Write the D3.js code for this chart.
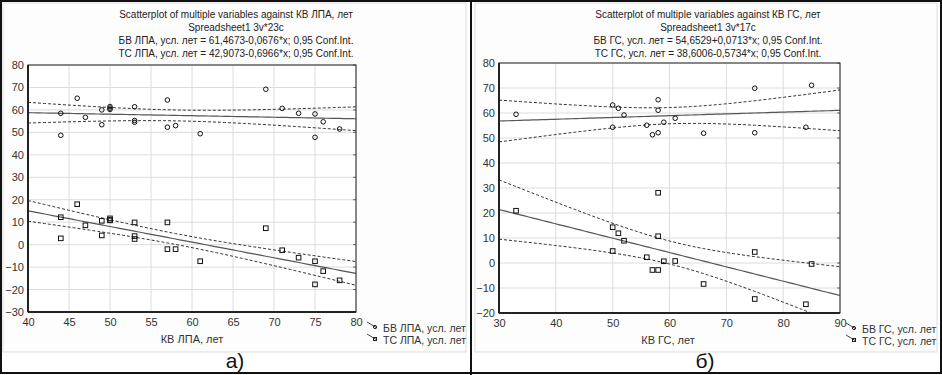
<!DOCTYPE html>
<html>
<head>
<meta charset="utf-8">
<script src="https://cdn.jsdelivr.net/npm/d3@7"></script>
<style>
  body { margin: 0; background: #fff; }
  text { font-family: "Liberation Sans", Arial, sans-serif; }
</style>
</head>
<body>
<div id="chart"></div>
<script>
// data
var lpaX  = [44,44,46,47,49,49,50,50,50,53,53,53,57,57,58,61,69,71,73,75,75,76,78];
var lpaBV = [58.5,48.7,65.2,56.7,60,53.4,61.5,60.8,60.2,61.4,55.3,54.5,64.4,52.3,53,49.4,69.2,60.7,58.5,58.2,47.8,54.7,51.5];
var lpaTC = [12.2,2.8,18,8.6,10.6,4.1,11.7,11,10.8,9.9,3.8,2.5,9.9,-2,-2,-7.4,7.3,-2.5,-5.8,-7.4,-17.7,-11.8,-15.9];
var lpaBVcoef = [61.4673, -0.0676];
var lpaTCcoef = [42.9073, -0.6966];

var gsX  = [33,50,50,51,52,56,57,58,58,58,59,61,66,75,75,84,85];
var gsBV = [59.5,63.2,54.3,61.9,59.2,55.1,51.3,65.3,61.1,52.1,56.3,57.9,51.9,69.9,52.1,54.3,71.1];
var gsTC = [20.9,14.3,4.8,11.9,8.9,2.3,-2.8,28.1,10.7,-2.8,0.7,0.8,-8.4,4.4,-14.4,-16.5,-0.4];
var gsBVcoef = [54.6529, 0.0713];
var gsTCcoef = [38.6006, -0.5734];

var lpaXTicks = [40,45,50,55,60,65,70,75,80];
var lpaYTicks = [-30,-20,-10,0,10,20,30,40,50,60,70,80];
var gsXTicks = [30,40,50,60,70,80,90];
var gsYTicks = [-20,-10,0,10,20,30,40,50,60,70,80];

var svg = d3.select("#chart").append("svg")
    .attr("width", 942).attr("height", 375);

// frames
svg.append("rect").attr("x",3).attr("y",3).attr("width",463).attr("height",349)
    .attr("fill","#fdfdfd").attr("stroke","#ddd");
svg.append("rect").attr("x",475).attr("y",3).attr("width",462).attr("height",349)
    .attr("fill","#fdfdfd").attr("stroke","#ddd");
svg.append("rect").attr("x",1).attr("y",1).attr("width",940).attr("height",372)
    .attr("fill","none").attr("stroke","#111").attr("stroke-width",2);
svg.append("line").attr("x1",471).attr("x2",471).attr("y1",0).attr("y2",375)
    .attr("stroke","#111").attr("stroke-width",2);

function tcrit(df) { return df == 21 ? 2.0796 : 2.1314; }

function panel(o) {
  var x = d3.scaleLinear().domain(o.xdom).range([o.left, o.right]);
  var y = d3.scaleLinear().domain(o.ydom).range([o.bottom, o.top]);
  var g = svg.append("g");

  // titles
  o.titles.forEach(function(t, i) {
    g.append("text").attr("x", o.titleX).attr("y", 18 + i * 13)
      .attr("text-anchor","middle").attr("font-size", 10).attr("fill","#222").text(t);
  });

  g.append("rect").attr("x",o.left).attr("y",o.top)
    .attr("width",o.right-o.left).attr("height",o.bottom-o.top).attr("fill","#fff");

  // grid
  g.selectAll(".gx").data(o.xticks).enter().append("line")
    .attr("x1",d => x(d)).attr("x2",d => x(d)).attr("y1",o.top).attr("y2",o.bottom)
    .attr("stroke","#dcdcdc");
  g.selectAll(".gy").data(o.yticks).enter().append("line")
    .attr("y1",d => y(d)).attr("y2",d => y(d)).attr("x1",o.left).attr("x2",o.right)
    .attr("stroke","#dcdcdc");

  // axes
  var ax = g.append("g").attr("transform","translate(0,"+o.bottom+")")
    .call(d3.axisBottom(x).tickValues(o.xticks).tickSize(0).tickPadding(6));
  var ay = g.append("g").attr("transform","translate("+o.left+",0)")
    .call(d3.axisLeft(y).tickValues(o.yticks).tickSize(0).tickPadding(4));
  [ax, ay].forEach(function(a) {
    a.select(".domain").remove();
    a.selectAll("text").attr("font-size", 11).attr("fill","#333")
      .attr("font-family","'Liberation Sans', Arial, sans-serif");
  });
  // inner ticks on right edge
  g.selectAll(".rt").data(o.yticks).enter().append("line")
    .attr("x1",o.right-3).attr("x2",o.right).attr("y1",d => y(d)).attr("y2",d => y(d))
    .attr("stroke","#666");

  var clipId = "clip" + o.left;
  g.append("clipPath").attr("id",clipId).append("rect")
    .attr("x",o.left).attr("y",o.top).attr("width",o.right-o.left).attr("height",o.bottom-o.top);
  var plot = g.append("g").attr("clip-path","url(#"+clipId+")");

  // fits and confidence bands
  [[o.bv, o.bvCoef],[o.tc, o.tcCoef]].forEach(function(s) {
    var ys = s[0], c = s[1], n = o.xs.length;
    var xbar = d3.mean(o.xs);
    var sxx = d3.sum(o.xs, v => (v - xbar) * (v - xbar));
    var sse = d3.sum(o.xs, (v, i) => Math.pow(ys[i] - (c[0] + c[1] * v), 2));
    var se = Math.sqrt(sse / (n - 2));
    var t = tcrit(n - 2);
    var xs = d3.range(o.xdom[0], o.xdom[1] + 0.001, (o.xdom[1] - o.xdom[0]) / 80);
    var fit = v => c[0] + c[1] * v;
    var hw = v => t * se * Math.sqrt(1 / n + (v - xbar) * (v - xbar) / sxx);
    var line = d3.line().x(d => x(d[0])).y(d => y(d[1]));
    plot.append("path").attr("d", line(xs.map(v => [v, fit(v)])))
      .attr("fill","none").attr("stroke","#555").attr("stroke-width",1.2);
    [1, -1].forEach(function(sg) {
      plot.append("path").attr("d", line(xs.map(v => [v, fit(v) + sg * hw(v)])))
        .attr("fill","none").attr("stroke","#333").attr("stroke-dasharray","3,2");
    });
  });

  // points
  plot.selectAll(".c").data(o.xs.map((v, i) => [v, o.bv[i]])).enter().append("circle")
    .attr("cx",d => x(d[0])).attr("cy",d => y(d[1])).attr("r",2.3)
    .attr("fill","none").attr("stroke","#111").attr("stroke-width",1);
  plot.selectAll(".s").data(o.xs.map((v, i) => [v, o.tc[i]])).enter().append("rect")
    .attr("x",d => x(d[0]) - 2.3).attr("y",d => y(d[1]) - 2.3).attr("width",4.6).attr("height",4.6)
    .attr("fill","none").attr("stroke","#111").attr("stroke-width",1);

  // frame
  g.append("rect").attr("x",o.left).attr("y",o.top)
    .attr("width",o.right-o.left).attr("height",o.bottom-o.top)
    .attr("fill","none").attr("stroke","#222").attr("stroke-width",1);
  g.append("line").attr("x1",o.left).attr("x2",o.left).attr("y1",o.top).attr("y2",o.bottom)
    .attr("stroke","#222").attr("stroke-width",2);
  g.append("line").attr("x1",o.left).attr("x2",o.right).attr("y1",o.bottom).attr("y2",o.bottom)
    .attr("stroke","#222").attr("stroke-width",2);

  // x title
  g.append("text").attr("x", o.xTitleX).attr("y", o.bottom + 31)
    .attr("text-anchor","middle").attr("font-size",11).attr("fill","#333").text(o.xTitle);

  // legend
  var lx = o.right + o.legendGap;
  o.legend.forEach(function(t, i) {
    var ly = o.bottom + 16 + i * 12;
    g.append("line").attr("x1",lx + 1).attr("y1",ly - 6).attr("x2",lx + 11).attr("y2",ly)
      .attr("stroke","#444");
    if (i == 0) g.append("circle").attr("cx",lx + 9).attr("cy",ly - 1).attr("r",1.6)
      .attr("fill","none").attr("stroke","#222");
    else g.append("rect").attr("x",lx + 7.5).attr("y",ly - 2.5).attr("width",3).attr("height",3)
      .attr("fill","none").attr("stroke","#222");
    g.append("text").attr("x", lx + 17).attr("y", ly + 4)
      .attr("font-size",10.5).attr("fill","#333").text(t);
  });

  // panel label
  g.append("text").attr("x", o.labelX).attr("y", 368)
    .attr("text-anchor","middle").attr("font-size",21).attr("fill","#111").text(o.label);
}

panel({
  left: 28, right: 356, top: 65, bottom: 312,
  xdom: [40, 80], ydom: [-30, 80], xticks: lpaXTicks, yticks: lpaYTicks,
  xs: lpaX, bv: lpaBV, tc: lpaTC, bvCoef: lpaBVcoef, tcCoef: lpaTCcoef,
  titleX: 236,
  titles: ["Scatterplot of multiple variables against КВ ЛПА, лет",
           "Spreadsheet1 3v*23c",
           "БВ ЛПА, усл. лет = 61,4673-0,0676*x; 0,95 Conf.Int.",
           "ТС ЛПА, усл. лет = 42,9073-0,6966*x; 0,95 Conf.Int."],
  xTitle: "КВ ЛПА, лет", xTitleX: 192,
  legend: ["БВ ЛПА, усл. лет", "ТС ЛПА, усл. лет"], legendGap: 10,
  label: "а)", labelX: 235
});

panel({
  left: 499, right: 840, top: 63, bottom: 313,
  xdom: [30, 90], ydom: [-20, 80], xticks: gsXTicks, yticks: gsYTicks,
  xs: gsX, bv: gsBV, tc: gsTC, bvCoef: gsBVcoef, tcCoef: gsTCcoef,
  titleX: 708,
  titles: ["Scatterplot of multiple variables against КВ ГС, лет",
           "Spreadsheet1 3v*17c",
           "БВ ГС, усл. лет = 54,6529+0,0713*x; 0,95 Conf.Int.",
           "ТС ГС, усл. лет = 38,6006-0,5734*x; 0,95 Conf.Int."],
  xTitle: "КВ ГС, лет", xTitleX: 668,
  legend: ["БВ ГС, усл. лет", "ТС ГС, усл. лет"], legendGap: 5,
  label: "б)", labelX: 705
});
</script>
</body>
</html>
